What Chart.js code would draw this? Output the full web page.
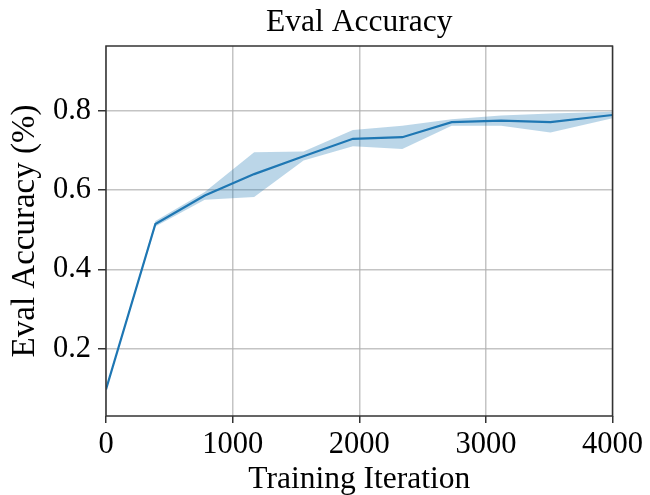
<!DOCTYPE html>
<html>
<head>
<meta charset="utf-8">
<script src="https://cdn.jsdelivr.net/npm/chart.js@4/dist/chart.umd.min.js"></script>
<style>
  html, body { margin: 0; padding: 0; background: #fff; }
  #wrap { width: 650px; height: 495px; }
</style>
</head>
<body>
<div id="wrap"><canvas id="myChart"></canvas></div>
<script>
// values
const iterations = [0, 390, 780, 1170, 1560, 1950, 2340, 2730, 3120, 3510, 4000];
const accMean = [0.097, 0.514, 0.586, 0.640, 0.685, 0.729, 0.733, 0.771, 0.775, 0.771, 0.789];
const accUpper = [0.100, 0.522, 0.595, 0.695, 0.697, 0.751, 0.762, 0.778, 0.788, 0.793, 0.797];
const accLower = [0.094, 0.508, 0.575, 0.582, 0.674, 0.710, 0.703, 0.762, 0.762, 0.745, 0.781];
const xTicks = [0, 1000, 2000, 3000, 4000];
const yTicks = [0.2, 0.4, 0.6, 0.8];
const chartTitle = 'Eval Accuracy';

const lineColor = '#1f77b4';
const bandColor = 'rgba(31, 119, 180, 0.3)';
const fontFamily = '"Liberation Serif", "Times New Roman", serif';

function toPoints(ys) {
    return iterations.map((x, i) => ({x: x, y: ys[i]}));
}

// box round the plot area (like matplotlib spines) and the title centred over the axes
const frame = {
    id: 'frame',
    afterDraw(chart) {
        const {ctx, chartArea} = chart;
        ctx.save();
        ctx.strokeStyle = '#333';
        ctx.lineWidth = 1.5;
        ctx.strokeRect(chartArea.left, chartArea.top, chartArea.right - chartArea.left, chartArea.bottom - chartArea.top);
        ctx.fillStyle = '#000';
        ctx.font = '31.5px ' + fontFamily;
        ctx.textAlign = 'center';
        ctx.textBaseline = 'middle';
        ctx.fillText(chartTitle, (chartArea.left + chartArea.right) / 2, 23);
        ctx.restore();
    }
};

const config = {
    type: 'line',
    data: {
        datasets: [
            {
                label: 'upper',
                data: toPoints(accUpper),
                borderWidth: 0,
                borderColor: 'rgba(0,0,0,0)',
                backgroundColor: bandColor,
                pointRadius: 0,
                fill: '+1'
            },
            {
                label: 'lower',
                data: toPoints(accLower),
                borderWidth: 0,
                borderColor: 'rgba(0,0,0,0)',
                pointRadius: 0,
                fill: false
            },
            {
                label: 'Eval Accuracy',
                data: toPoints(accMean),
                borderColor: lineColor,
                borderWidth: 2.2,
                pointRadius: 0,
                fill: false
            }
        ]
    },
    options: {
        responsive: true,
        maintainAspectRatio: false,
        animation: false,
        layout: { padding: { left: 0, right: 37, top: 46, bottom: 0 } },
        plugins: {
            legend: { display: false },
            tooltip: { enabled: false },
            title: { display: false }
        },
        scales: {
            x: {
                type: 'linear',
                min: 0,
                max: 4000,
                afterBuildTicks: axis => { axis.ticks = xTicks.map(v => ({value: v})); },
                afterFit: axis => { axis.height = 79; },
                grid: { color: 'rgba(176,176,176,0.75)', lineWidth: 1.5, tickLength: 7, tickColor: '#333', tickWidth: 1.5 },
                border: { display: false },
                ticks: {
                    color: '#000',
                    padding: 7,
                    maxRotation: 0,
                    font: { family: fontFamily, size: 30.5, lineHeight: 1 },
                    callback: v => String(v)
                },
                title: {
                    display: true,
                    text: 'Training Iteration',
                    color: '#000',
                    font: { family: fontFamily, size: 31.5, lineHeight: 1 },
                    padding: { top: 0, bottom: 0 }
                }
            },
            y: {
                min: 0.03,
                max: 0.963,
                afterBuildTicks: axis => { axis.ticks = yTicks.map(v => ({value: v})); },
                afterFit: axis => { axis.width = 106; },
                grid: { color: 'rgba(176,176,176,0.75)', lineWidth: 1.5, tickLength: 8, tickColor: '#333', tickWidth: 1.5 },
                border: { display: false },
                ticks: {
                    color: '#000',
                    padding: 7,
                    font: { family: fontFamily, size: 30.5, lineHeight: 1 },
                    callback: v => v.toFixed(1)
                },
                title: {
                    display: true,
                    text: 'Eval Accuracy (%)',
                    color: '#000',
                    font: { family: fontFamily, size: 33, lineHeight: 1.2 },
                    padding: { top: 6, bottom: 0 }
                }
            }
        }
    },
    plugins: [frame]
};

var myChart = new Chart(document.getElementById('myChart'), config);
</script>
</body>
</html>
